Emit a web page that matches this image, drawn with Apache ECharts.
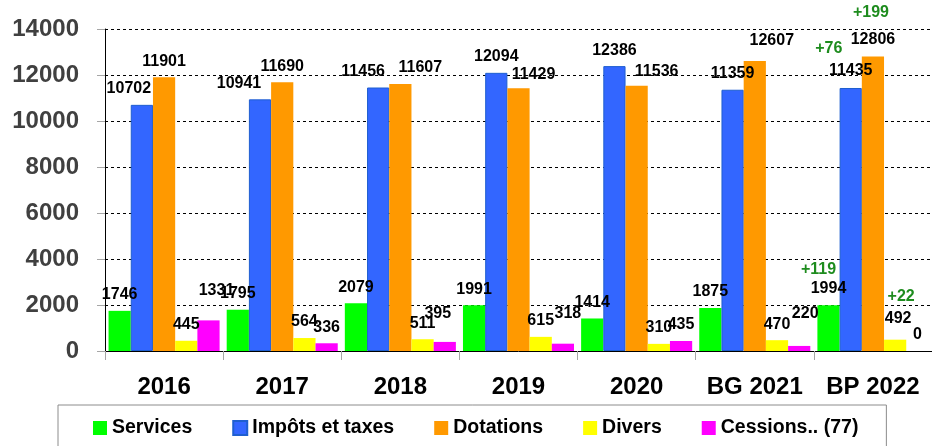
<!DOCTYPE html>
<html>
<head>
<meta charset="utf-8">
<script src="https://cdn.jsdelivr.net/npm/echarts@6/dist/echarts.min.js"></script>
<style>
  html, body { margin: 0; padding: 0; background: #fff; }
  #chart { width: 932px; height: 446px; }
</style>
</head>
<body>
<div id="chart"></div>
<script>
const categories = ['2016', '2017', '2018', '2019', '2020', 'BG 2021', 'BP 2022']
const services = [1746, 1795, 2079, 1991, 1414, 1875, 1994]
const impots = [10702, 10941, 11456, 12094, 12386, 11359, 11435]
const dotations = [11901, 11690, 11607, 11429, 11536, 12607, 12806]
const divers = [445, 564, 511, 615, 310, 470, 492]
const cessions = [1331, 336, 395, 318, 435, 220, 0]
// écarts BP 2022 vs BG 2021, in green above the last group (one per series)
const ecarts2022 = [119, 76, 199, 22, null]
const yMin = 0
const yMax = 14000
const yStep = 2000

const FONT = "'Liberation Sans', Arial, sans-serif"

// hand-placed labels in the original, nudged [dx, dy] by data index
const labelNudges = {
  'Impôts et taxes': { 0: [-13, 0], 1: [-21, 0], 2: [-15, 0] },
  'Dotations': { 2: [20, 0], 3: [15, 2], 4: [20, 2], 5: [17, -4] },
  'Divers': { 6: [3, -4] },
  'Cessions.. (77)': { 0: [8, -14], 2: [-7, -12], 3: [5, -14], 5: [6, -16] },
}
// look of the green écart line, by series index
const ecartLook = [
  { lineHeight: 20, padding: [0, 20, 0, 0] },
  { lineHeight: 26, padding: [0, 44, 0, 0] },
  { lineHeight: 36, padding: [0, 4, 0, 0] },
  { lineHeight: 26, padding: [0, 0, 0, 6] },
]

function buildSeries(name, values, color, idx, border) {
  return {
    name: name,
    type: 'bar',
    barGap: 0,
    barCategoryGap: '6%',
    itemStyle: { color: color, borderColor: border || color, borderWidth: border ? 1 : 0 },
    label: {
      show: true,
      position: 'top',
      distance: 8,
      fontFamily: FONT,
      fontSize: 16,
      fontWeight: 'bold',
      color: '#000',
    },
    data: values.map((v, i) => {
      const item = { value: v }
      const lbl = {}
      const nudge = (labelNudges[name] || {})[i]
      if (nudge) lbl.offset = nudge
      if (i === values.length - 1 && ecarts2022[idx] != null) {
        lbl.formatter = '{g|+' + ecarts2022[idx] + '}\n{v|' + v + '}'
        lbl.rich = {
          g: Object.assign({ color: '#1E8C1E', fontSize: 16, fontWeight: 'bold', fontFamily: FONT }, ecartLook[idx]),
          v: { lineHeight: 18, fontSize: 16, fontWeight: 'bold', fontFamily: FONT, color: '#000' },
        }
      }
      if (Object.keys(lbl).length) item.label = lbl
      return item
    }),
  }
}

const myChart = echarts.init(document.getElementById('chart'))
const option = {
  animation: false,
  grid: { left: 105, right: -4, top: 29, bottom: 95 },
  legend: {
    left: 58,
    top: 405,
    padding: [13, 28, 20, 35],
    borderColor: '#8c8c8c',
    borderWidth: 1,
    itemWidth: 14,
    itemHeight: 14,
    itemGap: 40,
    icon: 'rect',
    textStyle: { fontFamily: FONT, fontSize: 19.5, fontWeight: 'bold', color: '#000' },
  },
  xAxis: {
    type: 'category',
    data: categories,
    axisLine: { lineStyle: { color: '#000', width: 1 } },
    axisTick: { show: true, length: 9, lineStyle: { color: '#a6a6a6' } },
    axisLabel: { interval: 0, margin: 24, fontFamily: FONT, fontSize: 24, fontWeight: 'bold', color: '#000' },
  },
  yAxis: {
    type: 'value',
    min: yMin,
    max: yMax,
    interval: yStep,
    axisLine: { show: true, lineStyle: { color: '#000', width: 1 } },
    axisTick: { show: true, length: 8, lineStyle: { color: '#a6a6a6' } },
    axisLabel: {
      margin: 26,
      fontFamily: FONT,
      fontSize: 24,
      fontWeight: 'bold',
      color: '#404040',
      formatter: (v) => String(v),
    },
    splitLine: { lineStyle: { color: '#000', type: [3, 3], width: 1 } },
  },
  series: [
    buildSeries('Services', services, '#00ff00', 0),
    buildSeries('Impôts et taxes', impots, '#3366ff', 1, '#1f5fd0'),
    buildSeries('Dotations', dotations, '#ff9900', 2),
    buildSeries('Divers', divers, '#ffff00', 3),
    buildSeries('Cessions.. (77)', cessions, '#ff00ff', 4),
  ],
}
myChart.setOption(option)
window.addEventListener('resize', () => {
  myChart.resize()
})
</script>
</body>
</html>
